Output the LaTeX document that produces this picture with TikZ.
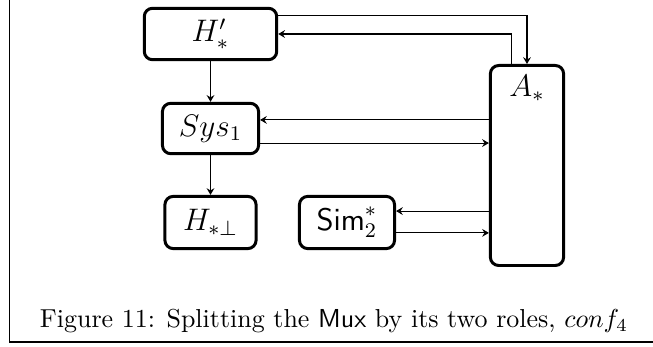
\documentclass[tikz,border=0pt]{standalone}
\usetikzlibrary{arrows.meta,calc}
\begin{document}
\begin{tikzpicture}[x=0.385pt,y=-0.385pt,
  blk/.style={draw,line width=1.15pt,rounded corners=3.2pt,inner sep=0pt,font=\large},
  arr/.style={line width=0.4pt,-{Stealth[length=2.6pt,width=3pt,inset=0.9pt]}}]
\useasboundingbox (0,0) rectangle (653,347);
% frame edges
\draw[line width=0.45pt] (9.5,0) -- (9.5,342) -- (653,342);

% blocks
\node[blk,minimum width=51pt,minimum height=19.8pt] (Hp) at (210.5,34) {$H'_*$};
\node[blk,minimum width=37pt,minimum height=19.4pt] (Sys) at (210.5,128.5) {$Sys_1$};
\node[blk,minimum width=35.1pt,minimum height=20.1pt] (Hb) at (210.5,222.5) {$H_{*\perp}$};
\node[blk,minimum width=36.6pt,minimum height=20.1pt] (Sim) at (347,222.5) {$\mathsf{Sim}^*_2$};
\node[blk,minimum width=28.2pt,minimum height=77pt,
  label={[anchor=north,inner sep=0pt,yshift=-4.2pt,font=\large]north:$A_*$}] (A) at (527,165.5) {};

% vertical chain
\draw[arr] (Hp.south) -- (Sys.north);
\draw[arr] (Sys.south) -- (Hb.north);

% links to A
\draw[arr] ([yshift=7.3pt]Hp.east) -| (A.north);
\draw[arr] ([xshift=-5.8pt]A.north) |- (Hp.east);
\draw[arr] ([yshift=3.3pt]Sys.east -| A.west) -- ([yshift=3.3pt]Sys.east);
\draw[arr] ([yshift=-5.6pt]Sys.east) -- ([yshift=-5.6pt]Sys.east -| A.west);
\draw[arr] ([yshift=4.4pt]Sim.east -| A.west) -- ([yshift=4.4pt]Sim.east);
\draw[arr] ([yshift=-4pt]Sim.east) -- ([yshift=-4pt]Sim.east -| A.west);

% caption
\node[anchor=base,inner sep=0pt] (cap) at (334,328)
  {Figure 11: Splitting the \textsf{Mux} by its two roles, $conf_4$};
\end{tikzpicture}
\end{document}
